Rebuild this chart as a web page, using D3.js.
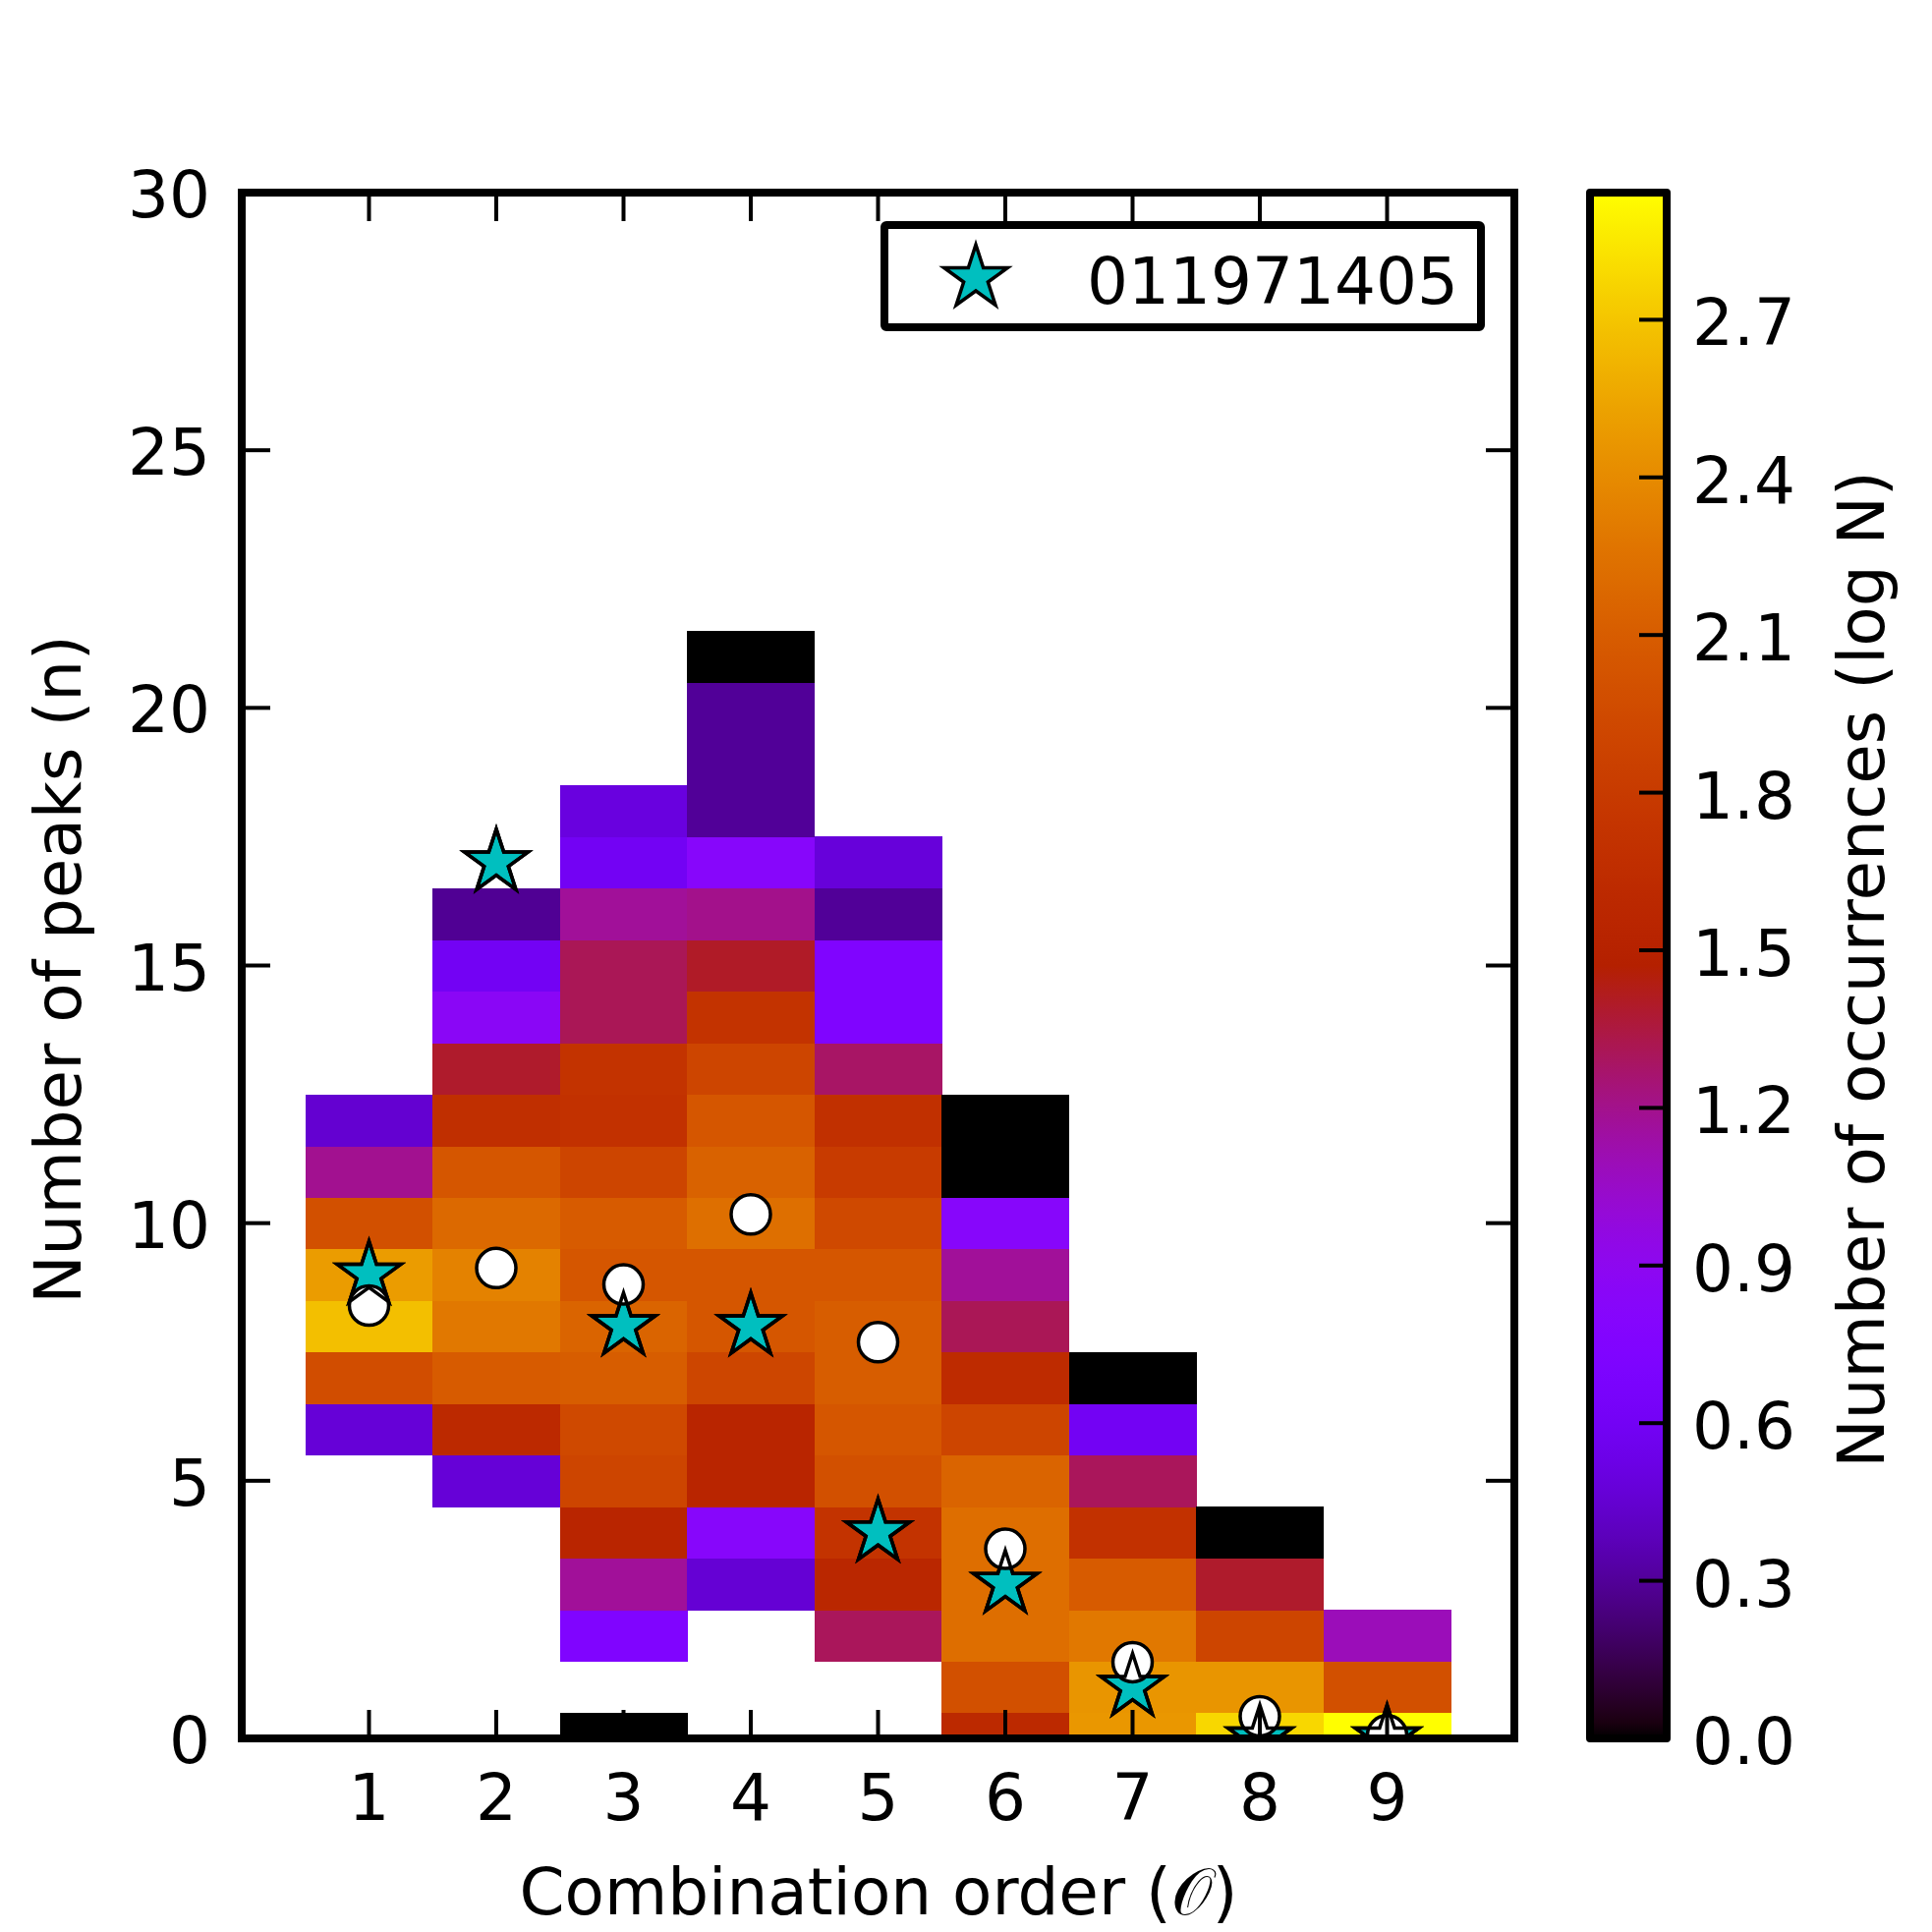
<!DOCTYPE html>
<html>
<head>
<meta charset="utf-8">
<script src="https://cdn.jsdelivr.net/npm/d3@7"></script>
<style>
  html, body { margin: 0; padding: 0; background: #fff; }
  svg text { font-family: "DejaVu Sans", sans-serif; fill: #000; }
</style>
</head>
<body>
<svg id="chart" width="1966" height="1966"></svg>
<script>
// ---------------- DATA ----------------
const orders = [1, 2, 3, 4, 5, 6, 7, 8, 9];
// lowest n (number of peaks) of each column's first cell
const nLow = [6, 5, 0, 3, 2, 0, 0, 0, 0];
// log N per cell, from nLow upward (null = empty cell)
const logN_O1 = [0.47, 1.97, 2.67, 2.50, 2.00, 1.19, 0.45];
const logN_O2 = [0.47, 1.60, 2.09, 2.29, 2.35, 2.19, 2.05, 1.67, 1.39, 0.86, 0.60, 0.29];
const logN_O3 = [0.00, null, 0.74, 1.17, 1.55, 1.90, 1.94, 2.10, 2.15, 2.05, 2.09, 1.90, 1.70, 1.72, 1.31, 1.31, 1.17, 0.60, 0.50];
const logN_O4 = [0.46, 0.82, 1.55, 1.55, 1.91, 2.05, 2.05, 2.23, 2.14, 2.05, 1.90, 1.72, 1.40, 1.20, 0.82, 0.30, 0.30, 0.30, 0.00];
const logN_O5 = [1.30, 1.57, 1.72, 2.00, 2.05, 2.10, 2.10, 2.05, 1.94, 1.81, 1.69, 1.28, 0.74, 0.74, 0.30, 0.48];
const logN_O6 = [1.60, 2.00, 2.22, 2.22, 2.22, 2.15, 1.90, 1.63, 1.31, 1.17, 0.82, 0.00, 0.00];
const logN_O7 = [2.47, 2.46, 2.29, 2.09, 1.70, 1.30, 0.60, 0.00];
const logN_O8 = [2.78, 2.46, 1.90, 1.39, 0.00];
const logN_O9 = [2.94, 2.00, 1.09];
const logNColumns = [logN_O1, logN_O2, logN_O3, logN_O4, logN_O5, logN_O6, logN_O7, logN_O8, logN_O9];
// mean number of peaks per combination order (white circles)
const meanN = [8.40, 9.13, 8.81, 10.17, 7.69, 3.68, 1.48, 0.43, 0.06];
// star: object 011971405
const starName = "011971405";
const starN = [9, 17, 8, 8, 4, 3, 1, 0, 0];
// ticks
const xTicks = [1, 2, 3, 4, 5, 6, 7, 8, 9];
const yTicks = [0, 5, 10, 15, 20, 25, 30];
const cbTicks = [0.0, 0.3, 0.6, 0.9, 1.2, 1.5, 1.8, 2.1, 2.4, 2.7];
const cbMax = 2.942;

// ---------------- LAYOUT ----------------
const L = 246, R = 1541, T = 196, B = 1769;
const cbL = 1618, cbR = 1696;
const FS = 66;

const svg = d3.select("#chart");
const x = d3.scaleLinear().domain([0, 10]).range([L, R]);
const y = d3.scaleLinear().domain([0, 30]).range([B, T]);
const cy = d3.scaleLinear().domain([0, cbMax]).range([B, T]);

function gnuplot(t) {
  t = Math.max(0, Math.min(1, t));
  const r = Math.sqrt(t), g = t * t * t, b = Math.max(0, Math.sin(2 * Math.PI * t));
  return d3.rgb(Math.round(r * 255), Math.round(g * 255), Math.round(b * 255)).toString();
}
const color = d3.scaleSequential(gnuplot).domain([0, cbMax]);

// cells
const cells = [];
orders.forEach((o, i) => {
  logNColumns[i].forEach((v, k) => {
    if (v !== null) cells.push({ o: o, n: nLow[i] + k, v: v });
  });
});

const defs = svg.append("defs");
defs.append("clipPath").attr("id", "plotclip")
  .append("rect").attr("x", L).attr("y", T).attr("width", R - L).attr("height", B - T);

const plot = svg.append("g").attr("clip-path", "url(#plotclip)");
plot.selectAll("rect.cell").data(cells).enter().append("rect")
  .attr("class", "cell")
  .attr("x", d => x(d.o - 0.5))
  .attr("y", d => y(d.n + 0.5))
  .attr("width", d => x(d.o + 0.5) - x(d.o - 0.5) + 0.6)
  .attr("height", d => y(d.n - 0.5) - y(d.n + 0.5) + 0.6)
  .attr("fill", d => color(d.v))
  .attr("shape-rendering", "crispEdges");

// star path
function starPath(Rr) {
  const pts = [];
  for (let k = 0; k < 10; k++) {
    const a = -Math.PI / 2 + k * Math.PI / 5;
    const rr = (k % 2 === 0) ? Rr : Rr * 0.381966;
    pts.push([rr * Math.cos(a), rr * Math.sin(a)]);
  }
  return "M" + pts.map(p => p[0].toFixed(2) + "," + p[1].toFixed(2)).join("L") + "Z";
}
const SP = starPath(34);

const starData = orders.map((o, i) => ({ o: o, n: starN[i] }));
const circData = orders.map((o, i) => ({ o: o, n: meanN[i] }));

plot.selectAll("path.starfill").data(starData).enter().append("path")
  .attr("d", SP)
  .attr("transform", d => `translate(${x(d.o)},${y(d.n)})`)
  .attr("fill", "#00bfbf").attr("stroke", "#000").attr("stroke-width", 3.5)
  .attr("stroke-linejoin", "miter");

plot.selectAll("circle.mean").data(circData).enter().append("circle")
  .attr("cx", d => x(d.o)).attr("cy", d => y(d.n)).attr("r", 20)
  .attr("fill", "#fff").attr("stroke", "#000").attr("stroke-width", 3.5);

plot.selectAll("path.staredge").data(starData).enter().append("path")
  .attr("d", SP)
  .attr("transform", d => `translate(${x(d.o)},${y(d.n)})`)
  .attr("fill", "none").attr("stroke", "#000").attr("stroke-width", 3.5)
  .attr("stroke-linejoin", "miter");

// ticks (inward, all four sides)
const TL = 29, TW = 4;
const tg = svg.append("g").attr("stroke", "#000").attr("stroke-width", TW);
xTicks.forEach(t => {
  tg.append("line").attr("x1", x(t)).attr("x2", x(t)).attr("y1", B).attr("y2", B - TL);
  tg.append("line").attr("x1", x(t)).attr("x2", x(t)).attr("y1", T).attr("y2", T + TL);
});
yTicks.forEach(t => {
  tg.append("line").attr("x1", L).attr("x2", L + TL).attr("y1", y(t)).attr("y2", y(t));
  tg.append("line").attr("x1", R).attr("x2", R - TL).attr("y1", y(t)).attr("y2", y(t));
});

// frame
svg.append("rect").attr("x", L).attr("y", T).attr("width", R - L).attr("height", B - T)
  .attr("fill", "none").attr("stroke", "#000").attr("stroke-width", 8);

// tick labels
svg.append("g").selectAll("text").data(xTicks).enter().append("text")
  .attr("x", d => x(d)).attr("y", 1852)
  .attr("text-anchor", "middle").attr("font-size", FS).text(d => d);
svg.append("g").selectAll("text").data(yTicks).enter().append("text")
  .attr("x", 214).attr("y", d => y(d) + 25)
  .attr("text-anchor", "end").attr("font-size", FS).text(d => d);

// axis labels
svg.append("text").attr("x", 894).attr("y", 1948)
  .attr("text-anchor", "middle").attr("font-size", FS)
  .text("Combination order (\u{1D4AA})");
svg.append("text")
  .attr("transform", `translate(82,${(T + B) / 2 + 4}) rotate(-90)`)
  .attr("text-anchor", "middle").attr("font-size", FS)
  .text("Number of peaks (n)");

// legend
svg.append("rect").attr("x", 900).attr("y", 229).attr("width", 607).attr("height", 104)
  .attr("fill", "#fff").attr("stroke", "#000").attr("stroke-width", 8)
  .attr("rx", 2).attr("stroke-linejoin", "round");
svg.append("path").attr("d", SP).attr("transform", "translate(993,283)")
  .attr("fill", "#00bfbf").attr("stroke", "#000").attr("stroke-width", 3.5);
svg.append("text").attr("x", 1106).attr("y", 309).attr("font-size", FS).text(starName);

// colorbar
const grad = defs.append("linearGradient").attr("id", "cbgrad")
  .attr("x1", 0).attr("y1", 1).attr("x2", 0).attr("y2", 0);
d3.range(0, 101).forEach(i => {
  const t = i / 100;
  grad.append("stop").attr("offset", t).attr("stop-color", color(t * cbMax));
});
svg.append("rect").attr("x", cbL).attr("y", T).attr("width", cbR - cbL).attr("height", B - T)
  .attr("fill", "url(#cbgrad)");
const cbt = svg.append("g").attr("stroke", "#000").attr("stroke-width", TW);
cbTicks.forEach(t => {
  cbt.append("line").attr("x1", cbR - 28).attr("x2", cbR).attr("y1", cy(t)).attr("y2", cy(t));
});
svg.append("rect").attr("x", cbL).attr("y", T).attr("width", cbR - cbL).attr("height", B - T)
  .attr("fill", "none").attr("stroke", "#000").attr("stroke-width", 8)
  .attr("stroke-linejoin", "round");
svg.append("g").selectAll("text").data(cbTicks).enter().append("text")
  .attr("x", 1722).attr("y", d => cy(d) + 26)
  .attr("font-size", FS).text(d => d.toFixed(1));
svg.append("text")
  .attr("transform", `translate(1917,${(T + B) / 2 + 4}) rotate(-90)`)
  .attr("text-anchor", "middle").attr("font-size", FS)
  .text("Number of occurrences (log N)");
</script>
</body>
</html>
